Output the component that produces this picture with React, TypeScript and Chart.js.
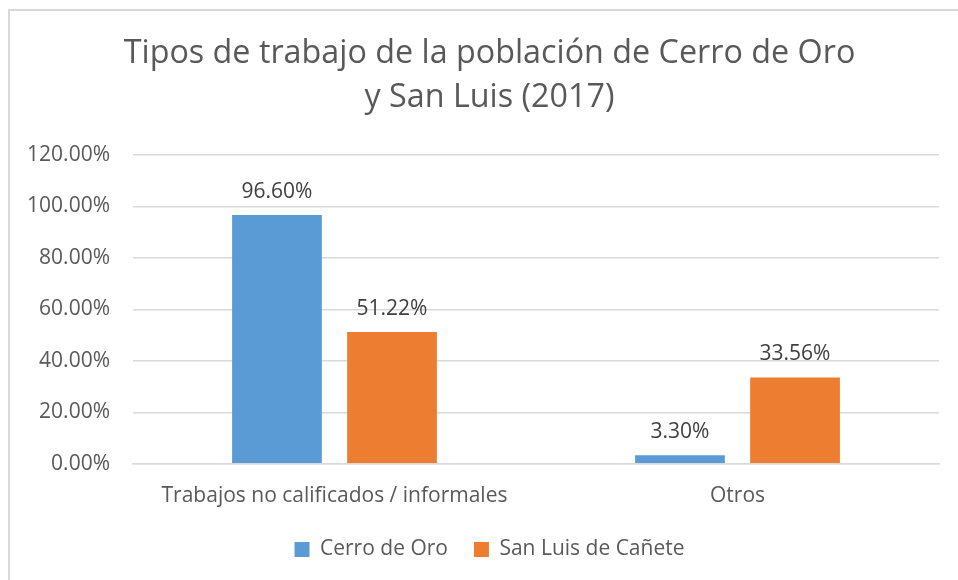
import React, { useEffect, useRef } from "react";
import { Chart, registerables } from "chart.js";

Chart.register(...registerables);

const categories = ["Trabajos no calificados / informales", "Otros"];
const cerroDeOro = [0.966, 0.033];
const sanLuisDeCanete = [0.5122, 0.3356];
const seriesNames = ["Cerro de Oro", "San Luis de Cañete"];
const titleLines = ["Tipos de trabajo de la población de Cerro de Oro", "y San Luis (2017)"];

const FONT = "'Open Sans', 'Noto Sans', sans-serif";

const framePlugin = {
  id: "frame",
  beforeDraw(chart: any) {
    const ctx = chart.ctx;
    ctx.save();
    ctx.fillStyle = "#ffffff";
    ctx.fillRect(0, 0, chart.width, chart.height);
    ctx.strokeStyle = "#d9d9d9";
    ctx.lineWidth = 2;
    ctx.beginPath();
    ctx.moveTo(9, chart.height);
    ctx.lineTo(9, 10);
    ctx.lineTo(chart.width, 10);
    ctx.stroke();
    ctx.restore();
  },
};

const labelsPlugin = {
  id: "valueLabels",
  afterDatasetsDraw(chart: any) {
    const ctx = chart.ctx;
    ctx.save();
    ctx.font = `21px ${FONT}`;
    ctx.fillStyle = "#404040";
    ctx.textAlign = "center";
    ctx.textBaseline = "alphabetic";
    chart.data.datasets.forEach((ds: any, i: number) => {
      const meta = chart.getDatasetMeta(i);
      meta.data.forEach((bar: any, j: number) => {
        const v = ds.data[j];
        ctx.fillText((v * 100).toFixed(2) + "%", bar.x, bar.y - 17);
      });
    });
    ctx.restore();
  },
};

export default function App() {
  const ref = useRef<HTMLCanvasElement>(null);
  useEffect(() => {
    if (!ref.current) return;
    const chart = new Chart(ref.current, {
      type: "bar",
      data: {
        labels: categories,
        datasets: [
          { label: seriesNames[0], data: cerroDeOro, backgroundColor: "#5b9bd5" },
          { label: seriesNames[1], data: sanLuisDeCanete, backgroundColor: "#ed7d31" },
        ],
      },
      options: {
        animation: false,
        responsive: false,
        maintainAspectRatio: false,
        layout: { padding: { left: 40, right: 19, top: 32, bottom: 10 } },
        datasets: {
          bar: { categoryPercentage: 0.571, barPercentage: 0.78 },
        },
        scales: {
          x: {
            grid: { display: false, drawTicks: false },
            border: { display: true, color: "#d9d9d9", width: 1.5 },
            afterFit: (scale: any) => {
              scale.height = scale.height - 16;
            },
            ticks: { color: "#595959", font: { family: FONT, size: 21 }, padding: 20 },
          },
          y: {
            min: 0,
            max: 1.2,
            grid: { color: "#d9d9d9", lineWidth: 1.5, drawTicks: false },
            border: { display: false },
            afterFit: (scale: any) => {
              scale.width = 93;
              scale._computeLabelArea = () => undefined;
            },
            ticks: {
              stepSize: 0.2,
              color: "#595959",
              font: { family: FONT, size: 21 },
              padding: 23,
              callback: (v: any) => (Number(v) * 100).toFixed(2) + "%",
            },
          },
        },
        plugins: {
          title: {
            display: true,
            text: titleLines,
            color: "#595959",
            font: { family: FONT, size: 32.3, weight: "normal", lineHeight: 1.36 },
            padding: { top: 0, bottom: 35 },
          },
          legend: {
            position: "bottom",
            labels: {
              color: "#595959",
              font: { family: FONT, size: 21 },
              boxWidth: 15,
              boxHeight: 15,
              padding: 26,
            },
          },
          tooltip: { enabled: false },
        },
      },
      plugins: [framePlugin, labelsPlugin],
    });
    return () => chart.destroy();
  }, []);
  return (
    <div style={{ position: "fixed", left: 0, top: 0, width: 958, height: 580 }}>
      <canvas ref={ref} width={958} height={580} style={{ width: 958, height: 580 }} />
    </div>
  );
}
